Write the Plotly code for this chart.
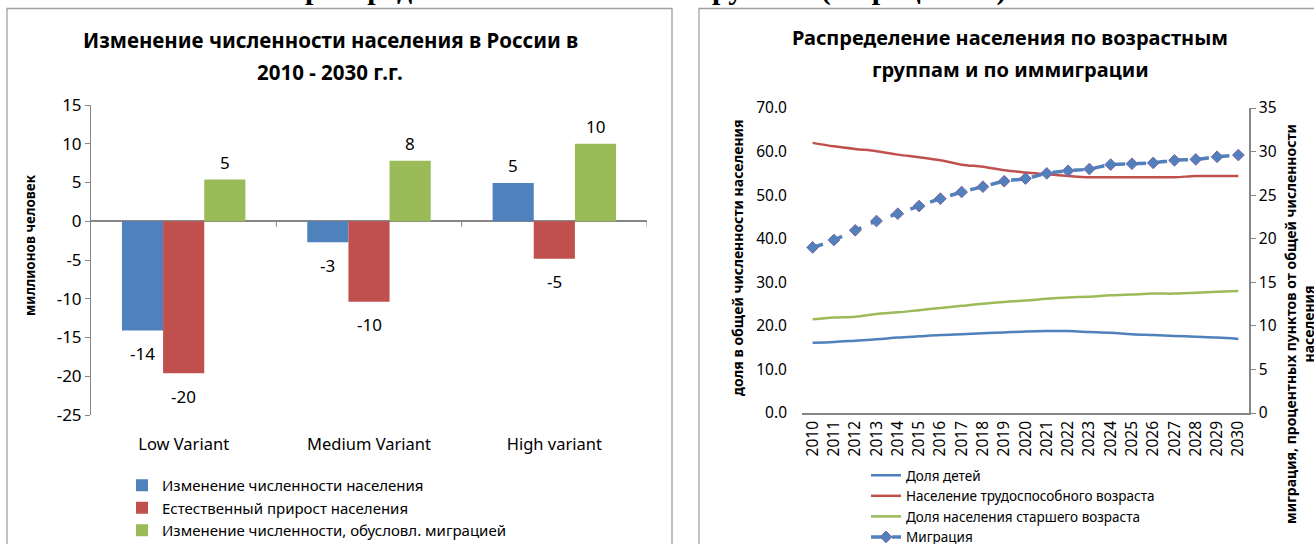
import plotly.graph_objects as go

# ---------------- data ----------------
variants = ["Low Variant", "Medium Variant", "High variant"]
pop_change = [-14.1, -2.7, 4.95]
natural_growth = [-19.6, -10.4, -4.85]
migration_change = [5.4, 7.8, 10.0]
bar_names = ["Изменение численности населения",
             "Естественный прирост населения",
             "Изменение численности, обусловл. миграцией"]
left_ticks = [-25, -20, -15, -10, -5, 0, 5, 10, 15]

years = [str(y) for y in range(2010, 2031)]
children = [16.1, 16.3, 16.6, 16.9, 17.3, 17.6, 17.9, 18.1, 18.3, 18.5, 18.7,
            18.8, 18.8, 18.6, 18.4, 18.1, 17.9, 17.7, 17.5, 17.3, 17.0]
working = [62.0, 61.2, 60.6, 60.1, 59.3, 58.7, 58.0, 57.0, 56.5, 55.7, 55.2,
           54.8, 54.4, 54.1, 54.1, 54.1, 54.1, 54.1, 54.4, 54.4, 54.4]
elderly = [21.5, 21.9, 22.1, 22.7, 23.1, 23.6, 24.1, 24.6, 25.1, 25.5, 25.8,
           26.2, 26.5, 26.7, 27.0, 27.2, 27.4, 27.4, 27.6, 27.8, 28.0]
migration = [19.0, 19.85, 20.96, 22.03, 22.87, 23.75, 24.6, 25.36, 25.97, 26.6, 26.9,
             27.5, 27.8, 28.0, 28.5, 28.6, 28.7, 29.0, 29.1, 29.4, 29.6]
line_names = ["Доля детей", "Население трудоспособного возраста",
              "Доля населения старшего возраста", "Миграция"]

# ---------------- style ----------------
W, H = 1314, 544
FONT = "Noto Sans, sans-serif"
BLUE, RED, GREEN = "#4F81BD", "#C0504D", "#9BBB59"
AXIS = "#868686"


def px(x):
    return x / W


def py(y):
    return 1 - y / H


fig = go.Figure()

# left bar chart
bar_colors = [BLUE, RED, GREEN]
bar_series = [pop_change, natural_growth, migration_change]
for name, vals, col in zip(bar_names, bar_series, bar_colors):
    fig.add_trace(go.Bar(x=variants, y=vals, name=name, marker_color=col,
                         marker_line_width=0, xaxis="x", yaxis="y",
                         legend="legend"))

# right line chart
for name, vals, col in zip(line_names[:3], [children, working, elderly], [BLUE, RED, GREEN]):
    fig.add_trace(go.Scatter(x=years, y=vals, name=name, mode="lines",
                             line=dict(color=col, width=2.5, shape="spline"),
                             xaxis="x2", yaxis="y2", legend="legend2"))
fig.add_trace(go.Scatter(x=years, y=migration, name=line_names[3], mode="lines+markers",
                         line=dict(color=BLUE, width=3.5, dash="dash", shape="spline"),
                         marker=dict(symbol="diamond", size=9, color=BLUE,
                                     line=dict(color="#7F62A4", width=1)),
                         xaxis="x2", yaxis="y3", legend="legend2"))

# bar geometry (for label placement)
x_dom = [px(91), px(647)]
y_dom = [py(415), py(105)]
bargap = 0.334
group_px = (x_dom[1] - x_dom[0]) * W / len(variants)
bar_px = group_px * (1 - bargap) / 3

annotations = []
for i, vals in enumerate(bar_series):
    for cat, v in zip(variants, vals):
        annotations.append(dict(x=cat, y=v, xref="x", yref="y", text=f"{v:.0f}",
                                showarrow=False, xshift=(i - 1) * bar_px,
                                yshift=17 if v > 0 else -23,
                                xanchor="center", yanchor="middle",
                                font=dict(family=FONT, size=17, color="#000")))


def label(x, y, text, size, angle=0, family=FONT):
    return dict(x=px(x), y=py(y), xref="paper", yref="paper", text=text,
                showarrow=False, xanchor="center", yanchor="middle", textangle=angle,
                font=dict(family=family, size=size, color="#000"))


annotations += [
    label(330, 40, "<b>Изменение численности населения в России в</b>", 20.5),
    label(330, 72, "<b>2010 - 2030 г.г.</b>", 20.5),
    label(1010, 38, "<b>Распределение населения по возрастным</b>", 20),
    label(1010, 69, "<b>группам и по иммиграции</b>", 20),
    label(30, 245, "<b>миллионов человек</b>", 13.5, -90),
    label(737, 258, "<b>доля в общей численности населения</b>", 14, -90),
    label(1299, 324, "<b>миграция, процентных пунктов от общей численности<br>населения</b>",
          14, -90),
    # clipped page heading above the charts
    label(655, -11, "<b>распределение населения по группам (в процентах)</b>", 30,
          family="Liberation Serif, serif"),
]

shapes = [
    dict(type="rect", xref="paper", yref="paper", x0=px(7), x1=px(672),
         y0=py(560), y1=py(8.5), line=dict(color="#A0A0A0", width=1.3)),
    dict(type="rect", xref="paper", yref="paper", x0=px(699), x1=px(1330),
         y0=py(560), y1=py(8.5), line=dict(color="#A0A0A0", width=1.3)),
]
for b in [0.5, 1.5, 2.5]:
    shapes.append(dict(type="line", xref="x", yref="y", x0=b, x1=b, y0=0, y1=-0.7,
                       line=dict(color=AXIS, width=1)))

left_tickfont = dict(family=FONT, size=17, color="#000")
right_tickfont = dict(family=FONT, size=15.5, color="#000")

fig.update_layout(
    width=W, height=H, margin=dict(l=0, r=0, t=0, b=0, autoexpand=False),
    paper_bgcolor="white", plot_bgcolor="white",
    barmode="group", bargap=bargap, bargroupgap=0,
    xaxis=dict(domain=x_dom, anchor="y", showline=False, showgrid=False, zeroline=False,
               ticks="", tickfont=dict(family=FONT, size=16.5, color="#000"),
               ticklabelstandoff=17, range=[-0.5, 2.5], automargin=False),
    yaxis=dict(domain=y_dom, anchor="x", range=[-25, 15], tickvals=left_ticks,
               ticktext=[str(t) for t in left_ticks], showgrid=False,
               showline=True, linecolor=AXIS, linewidth=1, ticks="outside", ticklen=5,
               tickcolor=AXIS, zeroline=True, zerolinecolor=AXIS, zerolinewidth=2,
               tickfont=left_tickfont, automargin=False),
    xaxis2=dict(domain=[px(802), px(1249)], anchor="y2", showgrid=False, zeroline=False,
                showline=True, linecolor=AXIS, linewidth=1.5, ticks="", tickangle=-90,
                tickfont=dict(family=FONT, size=15.5, color="#000"), range=[-0.5, 20.5],
                automargin=False),
    yaxis2=dict(domain=[py(413), py(108)], anchor="x2", range=[0, 70], dtick=10,
                tickformat=".1f", showgrid=False, showline=False, zeroline=False,
                ticks="", tickfont=right_tickfont, ticklabelstandoff=14, automargin=False),
    yaxis3=dict(overlaying="y2", anchor="x2", side="right", range=[0, 35], dtick=5,
                showgrid=False, showline=True, linecolor=AXIS, linewidth=1.5,
                ticks="outside", ticklen=5, tickcolor=AXIS, zeroline=False,
                tickfont=right_tickfont, automargin=False),
    legend=dict(x=px(122), y=py(469), xanchor="left", yanchor="top",
                font=dict(family=FONT, size=15, color="#000"), itemwidth=30,
                bgcolor="rgba(0,0,0,0)", tracegroupgap=0),
    legend2=dict(x=px(866), y=py(460), xanchor="left", yanchor="top",
                 font=dict(family=FONT, size=13.5, color="#000"), itemwidth=30,
                 bgcolor="rgba(0,0,0,0)", tracegroupgap=0),
    annotations=annotations, shapes=shapes,
)

fig.write_html("out.html", config={"displayModeBar": False},
               post_script="document.body.style.margin='0';")
